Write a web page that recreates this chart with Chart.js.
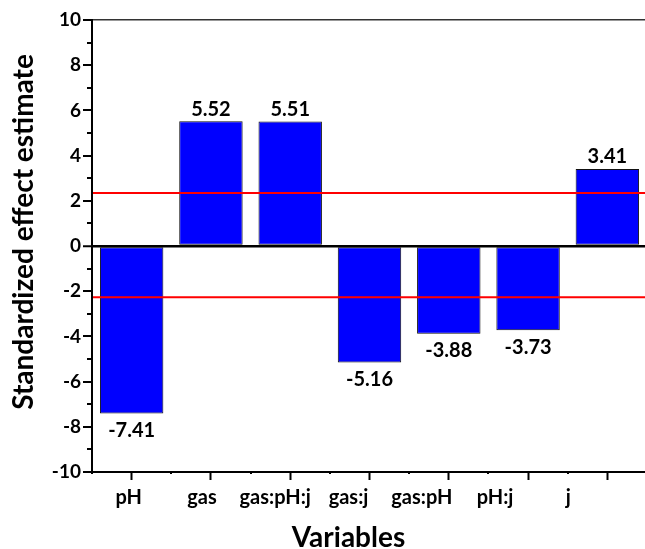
<!DOCTYPE html>
<html>
<head>
<meta charset="utf-8">
<script src="https://cdn.jsdelivr.net/npm/chart.js@4.4.1/dist/chart.umd.min.js"></script>
<style>
  html, body { margin: 0; padding: 0; overflow: hidden; background: #fff; }
  canvas { display: block; }
</style>
</head>
<body>
<canvas id="chart" width="647" height="549"></canvas>
<script>
// Standardized effects of each term, with the two significance limits
const variables = ['pH', 'gas', 'gas:pH:j', 'gas:j', 'gas:pH', 'pH:j', 'j'];
const effects = [-7.41, 5.52, 5.51, -5.16, -3.88, -3.73, 3.41];
const limits = [2.34, -2.27];
const yTickValues = [-10, -8, -6, -4, -2, 0, 2, 4, 6, 8, 10];
const xTitle = 'Variables';
const yTitle = 'Standardized effect estimate';

const FONT = 'Lato, "Open Sans", sans-serif';
// the name row is laid out a little tighter than the bar slots
const LABEL_SPAN = 7 * 79.3 / 73.3;

// red significance limits across the whole plot
const limitLines = {
  id: 'limitLines',
  afterDatasetsDraw(chart) {
    const { ctx, chartArea, scales: { y } } = chart;
    ctx.save();
    ctx.strokeStyle = '#FF0000';
    ctx.lineWidth = 2;
    ctx.beginPath();
    limits.forEach(v => {
      const py = y.getPixelForValue(v);
      ctx.moveTo(chartArea.left + 1, py);
      ctx.lineTo(chartArea.right, py);
    });
    ctx.stroke();
    ctx.restore();
  }
};

// short ticks: odd values on y, slot boundaries on x
const minorTicks = {
  id: 'minorTicks',
  afterDraw(chart) {
    const { ctx, chartArea, scales: { x, y } } = chart;
    ctx.save();
    ctx.strokeStyle = '#000';
    ctx.lineWidth = 2;
    ctx.beginPath();
    for (let v = yTickValues[0] + 1; v < yTickValues[yTickValues.length - 1]; v += 2) {
      const py = Math.round(y.getPixelForValue(v));
      ctx.moveTo(chartArea.left - 5, py);
      ctx.lineTo(chartArea.left, py);
    }
    const step = x.getPixelForValue(1) - x.getPixelForValue(0);
    for (let i = 0; i <= variables.length; i++) {
      const px = Math.round(x.getPixelForValue(0) - step / 2 + i * step);
      ctx.moveTo(px, chartArea.bottom);
      ctx.lineTo(px, chartArea.bottom + 2);
    }
    ctx.stroke();
    ctx.restore();
  }
};

// value printed above positive bars and below negative ones
const valueLabels = {
  id: 'valueLabels',
  afterDatasetsDraw(chart) {
    const { ctx } = chart;
    const meta = chart.getDatasetMeta(0);
    ctx.save();
    ctx.font = 'bold 20px ' + FONT;
    ctx.fillStyle = '#000';
    ctx.textAlign = 'center';
    ctx.textBaseline = 'middle';
    meta.data.forEach((bar, i) => {
      const v = effects[i];
      const py = v >= 0 ? bar.y - 12 : bar.y + 17;
      ctx.fillText(v.toFixed(2), bar.x, py);
    });
    ctx.restore();
  }
};

// axis titles
const axisTitles = {
  id: 'axisTitles',
  afterDraw(chart) {
    const { ctx, chartArea, scales: { xl } } = chart;
    ctx.save();
    ctx.fillStyle = '#000';
    ctx.textAlign = 'center';
    ctx.textBaseline = 'middle';
    ctx.font = 'bold 28px ' + FONT;
    const cx = (xl.getPixelForValue(-0.5) + xl.getPixelForValue(variables.length - 0.5)) / 2;
    ctx.fillText(xTitle, cx, 538);
    ctx.translate(24, (chartArea.top + chartArea.bottom) / 2 - 14);
    ctx.rotate(-Math.PI / 2);
    ctx.fillText(yTitle, 0, 0);
    ctx.restore();
  }
};

new Chart(document.getElementById('chart'), {
  type: 'bar',
  data: {
    labels: variables,
    datasets: [
      {
        data: effects,
        xAxisID: 'x',
        yAxisID: 'y',
        backgroundColor: '#0000FF',
        borderColor: '#111',
        borderWidth: 1,
        borderSkipped: false,
        barPercentage: 0.8,
        categoryPercentage: 1
      }
    ]
  },
  options: {
    responsive: false,
    animation: false,
    layout: { padding: { top: 20, left: 0, right: 0, bottom: 0 } },
    plugins: { legend: { display: false }, tooltip: { enabled: false } },
    scales: {
      x: {
        type: 'category',
        position: 'bottom',
        offset: true,
        grid: { offset: false, drawOnChartArea: false, tickLength: 8, tickWidth: 2, tickColor: '#000' },
        border: { color: '#000', width: 2 },
        ticks: { display: false },
        afterFit(s) { s.height = 8; }
      },
      xl: {
        type: 'linear',
        position: 'bottom',
        offset: false,
        min: -0.5,
        max: -0.5 + LABEL_SPAN,
        grid: { display: false, drawTicks: false, offset: false },
        border: { display: false },
        ticks: {
          color: '#000',
          font: { family: FONT, size: 20, weight: 'bold' },
          padding: 6,
          autoSkip: false,
          maxRotation: 0,
          callback: v => variables[v] ?? ''
        },
        afterBuildTicks(s) { s.ticks = variables.map((_, i) => ({ value: i })); },
        afterFit(s) { s.height = 69; }
      },
      xt: {
        type: 'category',
        position: 'top',
        grid: { drawOnChartArea: false, drawTicks: false },
        border: { color: '#333', width: 1.5 },
        ticks: { display: false },
        afterFit(s) { s.height = 0; }
      },
      y: {
        min: -10,
        max: 10,
        afterBuildTicks(s) { s.ticks = yTickValues.map(v => ({ value: v })); },
        ticks: {
          color: '#000',
          font: { family: FONT, size: 19, weight: 'bold' },
          padding: 2
        },
        grid: {
          color: c => (c.tick && c.tick.value === 0 ? '#000' : 'rgba(0,0,0,0)'),
          lineWidth: c => (c.tick && c.tick.value === 0 ? 2.5 : 0),
          tickColor: '#000',
          tickWidth: 2,
          tickLength: 9
        },
        border: { color: '#000', width: 2 },
        afterFit(s) { s.width = 92; }
      }
    }
  },
  plugins: [limitLines, minorTicks, valueLabels, axisTitles]
});
</script>
</body>
</html>
